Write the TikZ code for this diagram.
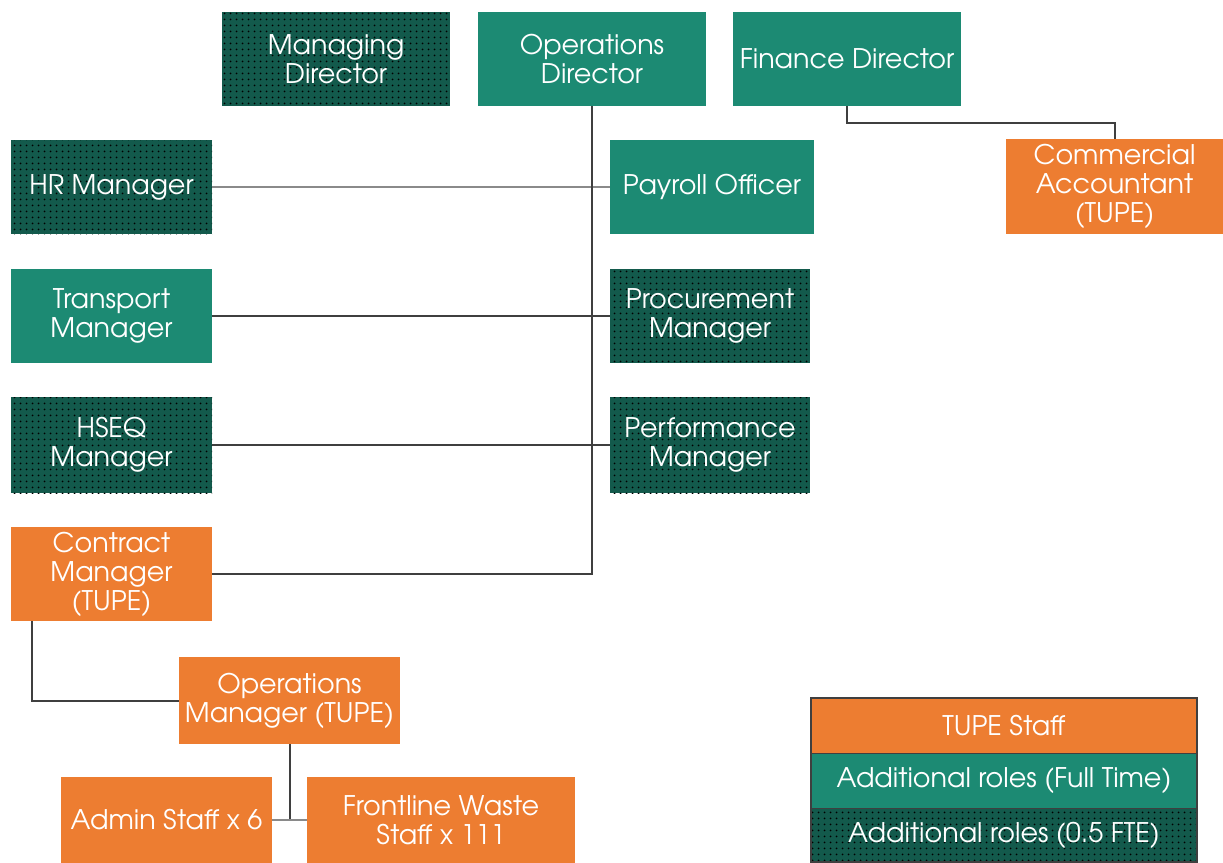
\documentclass[tikz,border=0pt]{standalone}
\usepackage{fontspec}
\setmainfont{TeX Gyre Adventor}
\usetikzlibrary{patterns.meta}
\definecolor{tupeor}{HTML}{ED7D31}
\definecolor{fullteal}{HTML}{1C8A73}
\definecolor{halfteal}{HTML}{135A4C}
\definecolor{linegray}{HTML}{3F3F3F}
\definecolor{lightline}{HTML}{8A8A8A}
\tikzdeclarepattern{
  name=bigdots,
  type=uncolored,
  bottom left={(0pt,0pt)},
  top right={(6pt,6pt)},
  tile size={(6pt,6pt)},
  code={\fill (3pt,3pt) circle (1.1pt);}
}
\tikzset{
  box/.style={inner sep=0pt, text=white, align=center, font=\fontsize{27}{29}\selectfont, draw=none},
  tupe/.style={box, fill=tupeor},
  full/.style={box, fill=fullteal},
  half/.style={box, fill=halfteal, postaction={pattern={bigdots}, pattern color=black}},
  conn/.style={draw=linegray, line width=2pt},
  lconn/.style={draw=lightline, line width=2pt},
}
\begin{document}
\begin{tikzpicture}[x=1pt,y=-1pt]
\useasboundingbox (0,0) rectangle (1223,862);
% top row
\node[half, minimum width=228pt, minimum height=94pt] (md) at (336,59) {Managing\\Director};
\node[full, minimum width=228pt, minimum height=94pt] (opd) at (592,59) {Operations\\Director};
\node[full, minimum width=228pt, minimum height=94pt] (fd) at (847,59) {Finance Director};
% left column
\node[half, minimum width=201pt, minimum height=94pt] (hr) at (111.5,187) {HR Manager};
\node[full, minimum width=201pt, minimum height=94pt] (tr) at (111.5,316) {Transport\\Manager};
\node[half, minimum width=201pt, minimum height=96pt] (hs) at (111.5,445) {HSEQ\\Manager};
\node[tupe, minimum width=201pt, minimum height=94pt] (cm) at (111.5,574) {Contract\\Manager\\(TUPE)};
% right column
\node[full, minimum width=204pt, minimum height=94pt] (po) at (712,187) {Payroll Officer};
\node[half, minimum width=200pt, minimum height=94pt] (pm) at (710,316) {Procurement\\Manager};
\node[half, minimum width=200pt, minimum height=96pt] (pf) at (710,445) {Performance\\Manager};
% commercial accountant
\node[tupe, minimum width=217pt, minimum height=95pt] (ca) at (1114.5,186.5) {Commercial\\Accountant\\(TUPE)};
% lower
\node[tupe, minimum width=221pt, minimum height=87pt] (om) at (289.5,700.5) {Operations\\Manager (TUPE)};
\node[tupe, minimum width=211pt, minimum height=86pt] (as) at (166.5,820) {Admin Staff x 6};
\node[tupe, minimum width=268pt, minimum height=86pt] (fw) at (441,820) {Frontline Waste\\Staff x 111};
% legend
\node[tupe, minimum width=386pt, minimum height=55pt] (lg1) at (1004,725.5) {TUPE Staff};
\node[full, minimum width=386pt, minimum height=55pt] (lg2) at (1004,780.5) {Additional roles (Full Time)};
\node[half, minimum width=386pt, minimum height=54pt] (lg3) at (1004,835) {Additional roles (0.5 FTE)};
\draw[linegray, line width=1.5pt] (lg1.north west) rectangle (lg3.south east);
\draw[linegray, line width=1.2pt] (lg1.south west) -- (lg1.south east);
\draw[linegray, line width=1.2pt] (lg2.south west) -- (lg2.south east);
% connectors
\coordinate (vb) at (opd.south |- cm.east);
\draw[lconn] (hr.east) -- (po.west);
\draw[conn] (tr.east) -- (tr.east -| pm.west);
\draw[conn] (hs.east) -- (hs.east -| pf.west);
\draw[conn] (opd.south) -- (vb) -- (cm.east);
\draw[conn] (fd.south) -- ++(0,17) -| (ca.north);
\coordinate (cmb) at ([xshift=-80pt]cm.south);
\draw[conn] (cmb) |- (om.west);
\coordinate (sj) at (om.south |- as.east);
\draw[conn] (om.south) -- (sj);
\draw[lconn] (as.east) -- (fw.west);
\end{tikzpicture}
\end{document}
